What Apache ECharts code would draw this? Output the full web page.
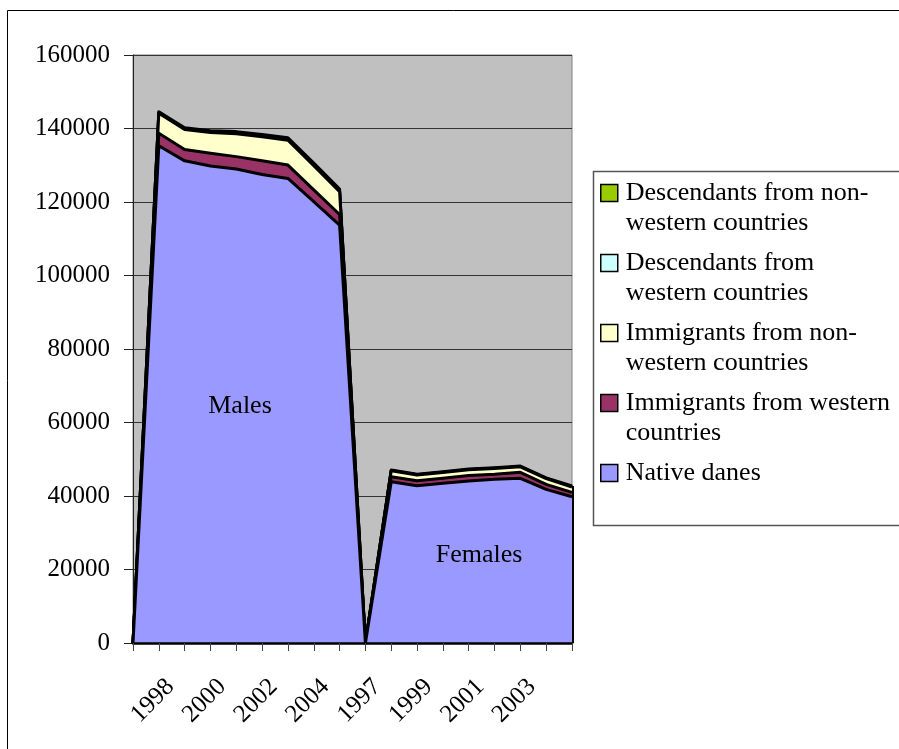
<!DOCTYPE html>
<html>
<head>
<meta charset="utf-8">
<script src="https://cdn.jsdelivr.net/npm/echarts@6/dist/echarts.min.js"></script>
<style>
  html, body { margin: 0; padding: 0; background: #ffffff; }
  #chart { width: 899px; height: 749px; }
</style>
</head>
<body>
<div id="chart"></div>
<script>
// Categories: a blank separator, males 1997-2004, a blank separator, females 1997-2004
const categories = ['', '1997', '1998', '1999', '2000', '2001', '2002', '2003', '2004',
                    '', '1997', '1998', '1999', '2000', '2001', '2002', '2003', '2004'];

// Persons per origin group (stacked from the bottom up)
const nativeDanes            = [0, 135300, 131200, 129800, 129000, 127500, 126400, 120100, 113700,
                                0, 43900, 42800, 43450, 44100, 44550, 44800, 41800, 39800];
const immigrantsWestern      = [0, 3400, 3100, 3450, 3350, 3700, 3650, 3200, 2900,
                                0, 1350, 1350, 1350, 1450, 1350, 1650, 1350, 1200];
const immigrantsNonWestern   = [0, 5480, 5440, 5640, 6240, 6570, 6760, 6600, 6220,
                                0, 1640, 1550, 1600, 1620, 1580, 1480, 1560, 1460];
const descendantsWestern     = [0, 150, 150, 160, 160, 170, 170, 170, 170,
                                0, 60, 60, 60, 60, 60, 60, 60, 60];
const descendantsNonWestern  = [0, 250, 300, 350, 400, 450, 500, 500, 500,
                                0, 120, 130, 140, 150, 160, 170, 180, 190];

const yMin = 0, yMax = 160000, yStep = 20000;
const groupLabels = ['Males', 'Females'];

const FONT = '"Liberation Serif", "Times New Roman", serif';

const groups = [
  { name: 'Native danes', values: nativeDanes, color: '#9999FF',
    lines: ['Native danes'] },
  { name: 'Immigrants from western countries', values: immigrantsWestern, color: '#993366',
    lines: ['Immigrants from western', 'countries'] },
  { name: 'Immigrants from non-western countries', values: immigrantsNonWestern, color: '#FFFFCC',
    lines: ['Immigrants from non-', 'western countries'] },
  { name: 'Descendants from western countries', values: descendantsWestern, color: '#CCFFFF',
    lines: ['Descendants from', 'western countries'] },
  { name: 'Descendants from non-western countries', values: descendantsNonWestern, color: '#99CC00',
    lines: ['Descendants from non-', 'western countries'] }
];

const lastIdx = categories.length - 1;
const lastTotal = groups.reduce((s, g) => s + g.values[lastIdx], 0);

const series = groups.map((g, i) => {
  const s = {
    name: g.name,
    type: 'line',
    stack: 'persons',
    data: g.values,
    symbol: 'none',
    smooth: false,
    // lower layers are painted last so every outline stays on top
    z: 10 - i,
    itemStyle: { color: g.color },
    lineStyle: { color: '#000000', width: 3, join: 'round' },
    areaStyle: { color: g.color, opacity: 1 },
    emphasis: { disabled: true },
    silent: true
  };
  if (i === 0) {
    // closing edge of the stacked polygon at the last category
    s.markLine = {
      silent: true,
      symbol: ['none', 'none'],
      label: { show: false },
      lineStyle: { color: '#000000', width: 3, type: 'solid' },
      data: [[{ coord: [lastIdx, 0] }, { coord: [lastIdx, lastTotal] }]]
    };
  }
  return s;
});

const legendOrder = groups.slice().reverse();
const legendText = {};
groups.forEach(g => {
  legendText[g.name] = '\n' + g.lines.join('\n') + (g.lines.length === 1 ? '\n' : '');
});

const chart = echarts.init(document.getElementById('chart'), null, { renderer: 'canvas' });

chart.setOption({
  animation: false,
  backgroundColor: '#ffffff',
  textStyle: { fontFamily: FONT },
  grid: {
    left: 133, right: 327, top: 55, bottom: 106,
    show: true,
    backgroundColor: '#C0C0C0',
    borderColor: '#808080',
    borderWidth: 1
  },
  xAxis: {
    type: 'category',
    data: categories,
    boundaryGap: false,
    z: 20,
    axisLine: { lineStyle: { color: '#000000', width: 2.5 } },
    axisTick: { show: true, interval: 0, length: 8, lineStyle: { color: '#444444', width: 1 } },
    axisLabel: {
      interval: 1,
      rotate: 45,
      margin: 26,
      padding: [0, 20, 0, 0],
      fontSize: 25,
      fontFamily: FONT,
      color: '#000000'
    },
    splitLine: { show: false }
  },
  yAxis: {
    type: 'value',
    min: yMin,
    max: yMax,
    interval: yStep,
    axisLine: { show: true, lineStyle: { color: '#222222', width: 1 } },
    axisTick: { show: true, length: 9, lineStyle: { color: '#222222', width: 1 } },
    axisLabel: {
      margin: 23, fontSize: 25, fontFamily: FONT, color: '#000000',
      formatter: v => String(v)
    },
    splitLine: { show: true, lineStyle: { color: '#333333', width: 1 } }
  },
  legend: {
    show: true,
    orient: 'vertical',
    left: 600,
    top: 148,
    padding: 0,
    itemGap: -20,
    itemWidth: 17,
    itemHeight: 17,
    icon: 'rect',
    selectedMode: false,
    data: legendOrder.map(g => ({
      name: g.name,
      itemStyle: { color: g.color, borderColor: '#000000', borderWidth: 1.5 }
    })),
    lineStyle: { width: 0, opacity: 0 },
    formatter: name => legendText[name],
    textStyle: {
      fontSize: 26,
      fontFamily: FONT,
      color: '#000000',
      lineHeight: 30,
      padding: [0, 0, 0, 3]
    }
  },
  graphic: [
    {
      type: 'rect', silent: true, z: -10,
      shape: { x: 7.5, y: 10.5, width: 1000, height: 1000 },
      style: { fill: 'none', stroke: '#000000', lineWidth: 1 }
    },
    {
      type: 'rect', silent: true, z: -5,
      shape: { x: 593.5, y: 171.5, width: 400, height: 354 },
      style: { fill: '#ffffff', stroke: '#555555', lineWidth: 1.5 }
    },
    {
      type: 'text', silent: true, z: 100, x: 240, y: 406,
      style: { text: groupLabels[0], fontSize: 26, fontFamily: FONT, fill: '#000000',
               align: 'center', verticalAlign: 'middle' }
    },
    {
      type: 'text', silent: true, z: 100, x: 479, y: 555,
      style: { text: groupLabels[1], fontSize: 26, fontFamily: FONT, fill: '#000000',
               align: 'center', verticalAlign: 'middle' }
    }
  ],
  series: series
});
</script>
</body>
</html>
